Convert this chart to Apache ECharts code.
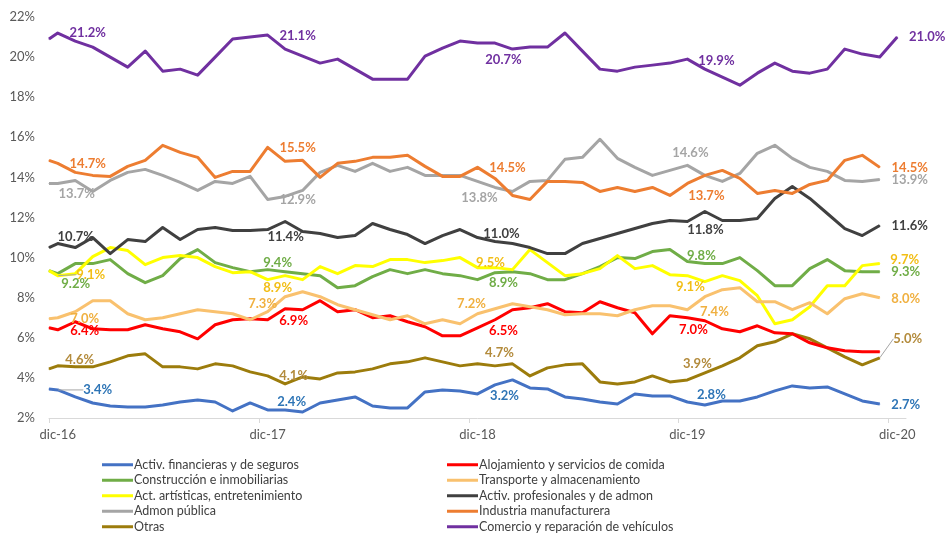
<!DOCTYPE html>
<html>
<head>
<meta charset="utf-8">
<script src="https://cdn.jsdelivr.net/npm/echarts@6/dist/echarts.min.js"></script>
<style>
  html, body { margin: 0; padding: 0; background: #ffffff; }
  #chart { width: 946px; height: 533px; }
</style>
</head>
<body>
<div id="chart"></div>
<script>
// Axis labels: one per December, month index counted from dic-16
const tickLabels = ['dic-16', 'dic-17', 'dic-18', 'dic-19', 'dic-20'];
const tickMonths = [0, 12, 24, 36, 48];

// Share of each sector (%). The first value opens the line at the axis start,
// the following ones are monthly from dic-16 onwards.
const financieras   = [3.45, 3.4, 3.05, 2.75, 2.6, 2.55, 2.55, 2.65, 2.8, 2.9, 2.8, 2.35, 2.75, 2.4, 2.4, 2.3, 2.75, 2.9, 3.05, 2.6, 2.5, 2.5, 3.3, 3.4, 3.35, 3.2, 3.65, 3.9, 3.5, 3.45, 3.05, 2.95, 2.8, 2.7, 3.2, 3.1, 3.1, 2.8, 2.65, 2.85, 2.85, 3.05, 3.35, 3.6, 3.5, 3.55, 3.2, 2.85, 2.7];
const construccion  = [9.35, 9.2, 9.7, 9.7, 9.9, 9.2, 8.75, 9.1, 9.95, 10.4, 9.75, 9.5, 9.3, 9.4, 9.3, 9.2, 9.1, 8.5, 8.6, 9.05, 9.4, 9.2, 9.4, 9.2, 9.1, 8.9, 9.25, 9.3, 9.2, 8.9, 8.9, 9.2, 9.55, 10.0, 9.95, 10.3, 10.4, 9.8, 9.7, 9.7, 10.0, 9.35, 8.6, 8.6, 9.45, 9.9, 9.35, 9.3, 9.3];
const artisticas    = [9.35, 9.1, 9.2, 10.05, 10.5, 10.35, 9.65, 10.0, 10.1, 10.0, 9.55, 9.25, 9.3, 8.9, 9.1, 8.9, 9.55, 9.2, 9.6, 9.55, 9.9, 9.9, 9.75, 9.85, 10.0, 9.5, 9.5, 9.4, 10.4, 9.75, 9.1, 9.2, 9.45, 10.1, 9.45, 9.6, 9.15, 9.1, 8.8, 9.1, 8.85, 8.1, 6.7, 6.9, 7.55, 8.6, 8.6, 9.6, 9.7];
const admonPublica  = [13.7, 13.7, 13.85, 13.3, 13.85, 14.25, 14.4, 14.1, 13.75, 13.35, 13.8, 13.7, 14.05, 12.9, 13.05, 13.35, 14.25, 14.6, 14.3, 14.7, 14.3, 14.5, 14.1, 14.1, 14.1, 13.8, 13.5, 13.3, 13.8, 13.85, 14.9, 15.0, 15.9, 14.95, 14.5, 14.1, 14.35, 14.6, 14.1, 13.8, 14.2, 15.2, 15.6, 14.95, 14.5, 14.3, 13.85, 13.8, 13.9];
const otras         = [4.45, 4.6, 4.55, 4.55, 4.8, 5.1, 5.2, 4.55, 4.55, 4.45, 4.7, 4.6, 4.3, 4.1, 3.7, 4.05, 3.95, 4.25, 4.3, 4.45, 4.7, 4.8, 5.0, 4.8, 4.6, 4.7, 4.6, 4.7, 4.1, 4.5, 4.65, 4.7, 3.8, 3.7, 3.8, 4.1, 3.8, 3.9, 4.25, 4.6, 5.0, 5.6, 5.8, 6.2, 5.95, 5.5, 5.05, 4.65, 5.0];
const alojamiento   = [6.5, 6.4, 6.8, 6.45, 6.4, 6.4, 6.65, 6.45, 6.3, 5.95, 6.65, 6.9, 6.95, 6.9, 7.45, 7.4, 7.85, 7.3, 7.4, 7.0, 7.1, 6.8, 6.55, 6.1, 6.1, 6.5, 6.9, 7.4, 7.5, 7.7, 7.3, 7.25, 7.8, 7.5, 7.25, 6.2, 7.1, 7.0, 6.85, 6.45, 6.3, 6.6, 6.25, 6.2, 5.75, 5.5, 5.35, 5.3, 5.3];
const transporte    = [6.95, 7.0, 7.3, 7.85, 7.85, 7.2, 6.9, 7.0, 7.2, 7.4, 7.3, 7.2, 6.9, 7.3, 8.05, 8.3, 8.05, 7.65, 7.4, 7.15, 6.9, 7.1, 6.7, 6.9, 6.7, 7.2, 7.45, 7.7, 7.55, 7.4, 7.15, 7.2, 7.2, 7.1, 7.4, 7.6, 7.6, 7.4, 8.05, 8.4, 8.5, 7.8, 7.8, 7.4, 7.75, 7.2, 7.95, 8.2, 8.0];
const profesionales = [10.5, 10.7, 10.5, 11.0, 10.2, 10.9, 10.8, 11.5, 10.9, 11.4, 11.5, 11.35, 11.35, 11.4, 11.8, 11.3, 11.2, 11.0, 11.1, 11.7, 11.4, 11.15, 10.7, 11.1, 11.4, 11.0, 10.8, 10.7, 10.5, 10.2, 10.2, 10.7, 10.95, 11.2, 11.45, 11.7, 11.85, 11.8, 12.3, 11.85, 11.85, 11.95, 12.95, 13.55, 12.95, 12.2, 11.45, 11.1, 11.6];
const manufactura   = [14.85, 14.7, 14.25, 14.1, 14.05, 14.55, 14.85, 15.6, 15.25, 15.0, 14.0, 14.3, 14.3, 15.5, 14.8, 14.85, 14.0, 14.7, 14.8, 15.0, 15.0, 15.1, 14.55, 14.05, 14.05, 14.5, 13.95, 13.1, 12.9, 13.8, 13.8, 13.75, 13.3, 13.5, 13.3, 13.5, 13.1, 13.7, 14.1, 14.35, 13.95, 13.2, 13.35, 13.2, 13.65, 13.85, 14.85, 15.1, 14.5];
const comercio      = [20.9, 21.2, 20.8, 20.5, 20.0, 19.5, 20.3, 19.3, 19.4, 19.1, 20.0, 20.9, 21.0, 21.1, 20.4, 20.05, 19.7, 19.9, 19.4, 18.9, 18.9, 18.9, 20.05, 20.45, 20.8, 20.7, 20.7, 20.4, 20.5, 20.5, 21.2, 20.3, 19.4, 19.3, 19.5, 19.6, 19.7, 19.9, 19.4, 19.0, 18.6, 19.2, 19.7, 19.3, 19.2, 19.4, 20.4, 20.15, 20.0, 21.0];

const FONT = 'Lato, "Open Sans", sans-serif';

// Series in legend order. labels: [month index, dx, dy, guide line]
const sectors = [
  { name: 'Activ. financieras y de seguros', values: financieras, color: '#4472C4', labelColor: '#2E75B6', col: 0,
    labels: [[0, 40, 0, true], [12, 24, -8], [24, 27, 2], [36, 24, -7], [47, 26, 1]] },
  { name: 'Construcción e inmobiliarias', values: construccion, color: '#70AD47', labelColor: '#70AD47', col: 0,
    labels: [[0, 18, 10], [12, 10, -7], [24, 26, 3], [36, 14, -6], [47, 26, 0]] },
  { name: 'Act. artísticas, entretenimiento', values: artisticas, color: '#FFFF00', labelColor: '#F2BE16', col: 0,
    labels: [[0, 33, -1, true], [12, 10, 8], [24, 13, -5], [36, 3, 11], [47, 25, -4]] },
  { name: 'Admon pública', values: admonPublica, color: '#A5A5A5', labelColor: '#A5A5A5', col: 0,
    labels: [[0, 19, 10], [12, 30, 0], [24, 2, 16], [36, 3, -13], [47, 30, 0]] },
  { name: 'Otras', values: otras, color: '#9C7C0C', labelColor: '#B38B3C', col: 0,
    labels: [[0, 22, -6], [12, 26, 0], [24, 22, -11], [36, 10, -16], [47, 28, -19, true]] },
  { name: 'Alojamiento y servicios de comida', values: alojamiento, color: '#FF0000', labelColor: '#FF0000', col: 1,
    labels: [[0, 27, 1], [12, 26, 1], [24, 26, 3], [36, 6, 12]] },
  { name: 'Transporte y almacenamiento', values: transporte, color: '#F9C16E', labelColor: '#F0B040', col: 1,
    labels: [[0, 27, 1], [12, -5, -8], [24, -6, -10], [36, 27, 2], [47, 26, 1]] },
  { name: 'Activ. profesionales y de admon', values: profesionales, color: '#404040', labelColor: '#404040', col: 1,
    labels: [[0, 18, -7], [12, 18, 7], [24, 24, -4], [36, 18, 8], [47, 30, 0]] },
  { name: 'Industria manufacturera', values: manufactura, color: '#ED7D31', labelColor: '#ED7D31', col: 1,
    labels: [[0, 30, 0], [12, 30, 0], [24, 30, 0], [36, 19, 12], [47, 30, 0]] },
  { name: 'Comercio y reparación de vehículos', values: comercio, color: '#7030A0', labelColor: '#7030A0', col: 1,
    labels: [[0, 30, 0], [12, 30, 1], [24, 26, 17], [36, 29, 2], [48, 30, 0]] }
];

// x position of the i-th stored value: the opening value sits on the axis start,
// month k is centred in its slot at k + 0.5
const xOf = i => (i === 0 ? 0 : i - 0.5);

const layoutTable = {};
const series = sectors.map((s, si) => {
  const byIndex = {};
  s.labels.forEach(l => { byIndex[l[0] + 1] = l; });
  layoutTable[si] = byIndex;
  const data = s.values.map((v, i) => {
    const item = { value: [xOf(i), v] };
    const l = byIndex[i];
    if (l) {
      item.label = { show: true };
      if (l[3]) item.labelLine = { show: true };
    }
    return item;
  });
  return {
    name: s.name,
    type: 'line',
    data: data,
    clip: false,
    symbol: 'circle',
    symbolSize: 1,
    showSymbol: true,
    showAllSymbol: true,
    itemStyle: { color: s.color },
    lineStyle: { color: s.color, width: 3, join: 'round' },
    emphasis: { disabled: true },
    z: 2 + si,
    label: {
      show: false,
      position: 'inside',
      align: 'center',
      verticalAlign: 'middle',
      color: s.labelColor,
      fontFamily: FONT,
      fontWeight: 'bold',
      fontSize: 13,
      formatter: p => p.value[1].toFixed(1) + '%'
    },
    labelLine: { show: false, length2: 0, lineStyle: { color: '#A6A6A6', width: 1 } },
    labelLayout: params => {
      const l = layoutTable[si][params.dataIndex];
      return l ? { dx: l[1], dy: l[2] } : {};
    }
  };
});

const legendBase = {
  orient: 'vertical',
  icon: 'rect',
  itemWidth: 31,
  itemHeight: 3,
  itemGap: 2,
  padding: 0,
  height: 90,
  selectedMode: false,
  textStyle: { fontFamily: FONT, fontSize: 12.5, color: '#404040', lineHeight: 13.5, padding: [0, 0, 0, -4] }
};

const chart = echarts.init(document.getElementById('chart'), null, { renderer: 'canvas' });
chart.setOption({
  animation: false,
  backgroundColor: '#ffffff',
  grid: { left: 49, right: 40, top: 17, bottom: 115, containLabel: false },
  xAxis: {
    type: 'value',
    min: 0,
    max: 49,
    splitLine: { show: false },
    axisLine: { show: true, lineStyle: { color: '#D9D9D9', width: 1 } },
    axisTick: { show: true, customValues: tickMonths, length: 5, lineStyle: { color: '#D9D9D9' } },
    axisLabel: {
      customValues: tickMonths.map(m => m + 0.5),
      formatter: v => tickLabels[tickMonths.indexOf(Math.round(v - 0.5))] || '',
      margin: 10,
      color: '#595959',
      fontFamily: FONT,
      fontSize: 13
    }
  },
  yAxis: {
    type: 'value',
    min: 2,
    max: 22,
    interval: 2,
    splitLine: { show: false },
    axisLine: { show: false },
    axisTick: { show: false },
    axisLabel: { formatter: '{value}%', margin: 14, color: '#595959', fontFamily: FONT, fontSize: 13 }
  },
  legend: [
    Object.assign({}, legendBase, { left: 102, top: 458, data: sectors.filter(s => s.col === 0).map(s => s.name) }),
    Object.assign({}, legendBase, { left: 447, top: 458, data: sectors.filter(s => s.col === 1).map(s => s.name) })
  ],
  series: series
});
</script>
</body>
</html>
